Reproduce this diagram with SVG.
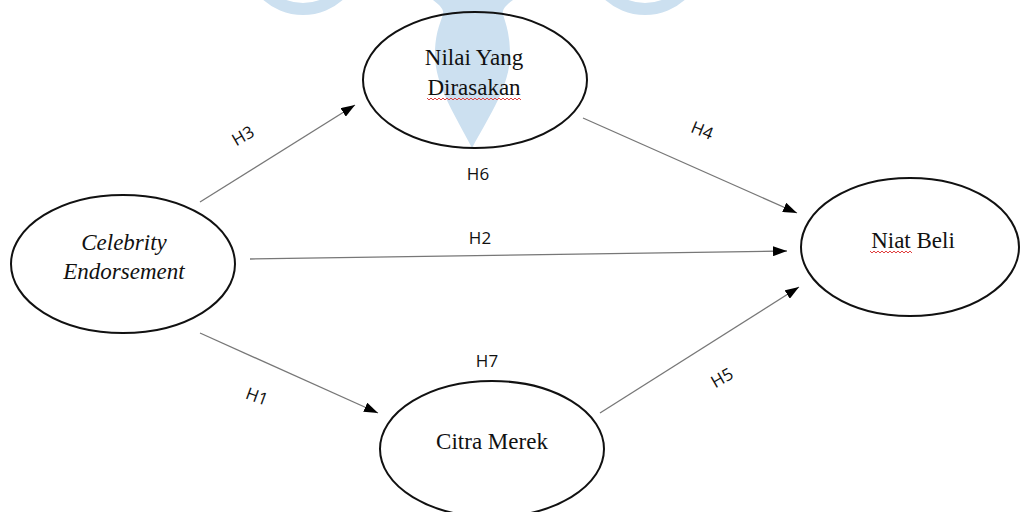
<svg xmlns="http://www.w3.org/2000/svg" width="1020" height="512" viewBox="0 0 1020 512">
<style>
.node{fill:none;stroke:#111;stroke-width:2}
.lbl{font-family:"Liberation Serif","Times New Roman",serif;font-size:23px;fill:#111;text-anchor:middle}
.it{font-style:italic}
.h{font-family:"Open Sans","Liberation Sans",sans-serif;font-size:17px;fill:#111;text-anchor:middle}
.edge{stroke:#777;stroke-width:1.3;fill:none;marker-end:url(#arr)}
.wm{fill:#cce0f0}
.sp{fill:none;stroke:#e04040;stroke-width:1}
</style>
<defs>
<marker id="arr" viewBox="0 0 14 10" refX="14" refY="5" markerWidth="14" markerHeight="10" markerUnits="userSpaceOnUse" orient="auto">
<path d="M0,0 L14,5 L0,10 Z" fill="#000"/>
</marker>
</defs>
<rect width="1020" height="512" fill="#fff"/>
<g id="watermark">
<path class="wm" fill-rule="evenodd" d="M243,-45 a60,60 0 1,0 120,0 a60,60 0 1,0 -120,0 Z M255,-45 a48,48 0 1,0 96,0 a48,48 0 1,0 -96,0 Z"/>
<path class="wm" fill-rule="evenodd" d="M585,-45 a60,60 0 1,0 120,0 a60,60 0 1,0 -120,0 Z M597,-45 a48,48 0 1,0 96,0 a48,48 0 1,0 -96,0 Z"/>
<path class="wm" d="M433,0 L513,0 C505,6 502,10 503,14 C505,22 510,32 510,55 C510,85 490,115 472,148 C455,115 435,85 435,55 C435,32 441,22 443,14 C444,10 441,6 433,0 Z"/>
</g>
<g id="connectors">
<line class="edge" x1="200" y1="202" x2="355" y2="105"/>
<line class="edge" x1="583" y1="118" x2="797" y2="213"/>
<line class="edge" x1="250" y1="259" x2="787" y2="251"/>
<line class="edge" x1="200" y1="333" x2="378" y2="413"/>
<line class="edge" x1="600" y1="413" x2="799" y2="287"/>
<text class="h" transform="translate(246,141) rotate(-30)">H3</text>
<text class="h" transform="translate(700,136) rotate(22)">H4</text>
<text class="h" x="480" y="244">H2</text>
<text class="h" transform="translate(255,402) rotate(20)">H1</text>
<text class="h" transform="translate(725,383) rotate(-30)">H5</text>
<text class="h" x="478" y="180">H6</text>
<text class="h" x="487" y="367">H7</text>
</g>
<g id="nilai">
<ellipse class="node" cx="475" cy="80" rx="112" ry="68"/>
<text class="lbl" x="474" y="65">Nilai Yang</text>
<text class="lbl" x="474" y="95">Dirasakan</text>
<path class="sp" d="M427,98 l2,2 l2,-2 l2,2 l2,-2 l2,2 l2,-2 l2,2 l2,-2 l2,2 l2,-2 l2,2 l2,-2 l2,2 l2,-2 l2,2 l2,-2 l2,2 l2,-2 l2,2 l2,-2 l2,2 l2,-2 l2,2 l2,-2 l2,2 l2,-2 l2,2 l2,-2 l2,2 l2,-2 l2,2 l2,-2 l2,2 l2,-2 l2,2 l2,-2 l2,2 l2,-2 l2,2 l2,-2 l2,2 l2,-2 l2,2 l2,-2 l2,2 l2,-2 l2,2"/>
</g>
<g id="celebrity">
<ellipse class="node" cx="123" cy="264" rx="112" ry="69"/>
<text class="lbl it" x="124" y="250">Celebrity</text>
<text class="lbl it" x="124" y="279">Endorsement</text>
</g>
<g id="niat">
<ellipse class="node" cx="910" cy="247" rx="109" ry="69"/>
<text class="lbl" x="913" y="248">Niat Beli</text>
<path class="sp" d="M870,251 l2,2 l2,-2 l2,2 l2,-2 l2,2 l2,-2 l2,2 l2,-2 l2,2 l2,-2 l2,2 l2,-2 l2,2 l2,-2 l2,2 l2,-2 l2,2 l2,-2 l2,2 l2,-2 l2,2"/>
</g>
<g id="citra">
<ellipse class="node" cx="492" cy="449" rx="112" ry="68"/>
<text class="lbl" x="492" y="449">Citra Merek</text>
</g>
</svg>
